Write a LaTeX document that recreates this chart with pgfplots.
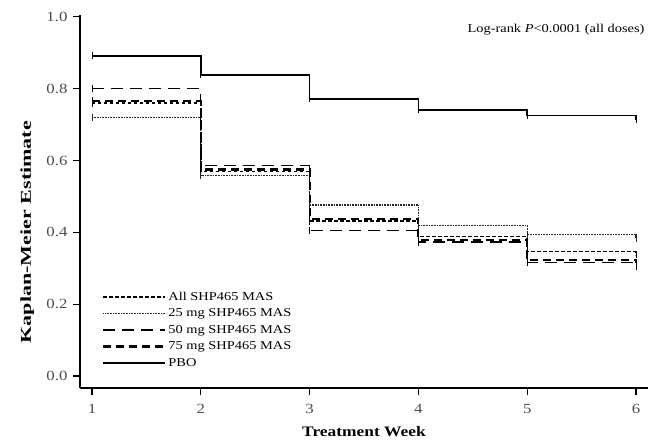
\documentclass[border=0pt]{standalone}
\usepackage{fontspec}
\setmainfont{Liberation Serif}
\newfontfamily\wideA[FakeStretch=1.2]{Liberation Serif}
\newfontfamily\wideY[FakeStretch=1.47]{Liberation Serif}
\usepackage{pgfplots}
\pgfplotsset{compat=1.18}
\begin{document}
\begin{tikzpicture}
\begin{axis}[
  at={(0,0)}, anchor=south west,
  width=568bp, height=373bp, scale only axis,
  xmin=0.89, xmax=6.11, ymin=-0.0334, ymax=1.005,
  axis lines=left, axis line style={-, line width=1.6bp, black},
  tick align=outside, major tick length=7bp,
  tick style={line width=1.3bp, black},
  xtick={1,2,3,4,5,6},
  ytick={0,0.2,0.4,0.6,0.8,1.0},
  yticklabel style={xshift=-2bp, /pgf/number format/.cd, fixed, fixed zerofill, precision=1},
  /pgf/number format/assume math mode=true,
  ticklabel style={font=\wideA\fontsize{14bp}{16bp}\selectfont, text=black!70},
  xticklabel style={yshift=-6bp},
  xlabel={\textbf{Treatment Week}},
  ylabel={\textbf{Kaplan-Meier Estimate}},
  xlabel style={at={(axis description cs:0.5,-0.118)}, anchor=center, font=\wideA\fontsize{14.5bp}{16bp}\selectfont},
  ylabel style={at={(axis description cs:-0.093,0.418)}, anchor=center, font=\wideY\fontsize{15bp}{16bp}\selectfont},
  legend style={at={(axis description cs:0.039,0.263)}, anchor=north west, draw=none, fill=none,
    font=\wideA\fontsize{12bp}{14bp}\selectfont, inner sep=0pt, row sep=3bp},
  legend cell align=left,
  legend image code/.code={\draw[#1] (0bp,0bp) -- (62bp,0bp);},
  every axis plot/.append style={const plot mark left, black, mark=|, mark size=3.5bp, mark options={solid, line width=0.8bp}},
]
% All SHP465 MAS
\addplot[line width=1.5bp, dash pattern=on 3.5bp off 2.5bp] coordinates {(1,0.760) (2,0.570) (3,0.432) (4,0.388) (5,0.346) (6,0.337)};
\addlegendentry{All SHP465 MAS}
% 25 mg
\addplot[line width=1.1bp, dash pattern=on 1bp off 0.6bp, black!85] coordinates {(1,0.720) (2,0.558) (3,0.476) (4,0.420) (5,0.393) (6,0.382)};
\addlegendentry{25 mg SHP465 MAS}
% 50 mg
\addplot[line width=1.2bp, dash pattern=on 12bp off 7bp] coordinates {(1,0.800) (2,0.585) (3,0.405) (4,0.373) (5,0.316) (6,0.306)};
\addlegendentry{50 mg SHP465 MAS}
% 75 mg
\addplot[line width=2.1bp, dash pattern=on 8bp off 5bp] coordinates {(1,0.766) (2,0.575) (3,0.437) (4,0.378) (5,0.322) (6,0.315)};
\addlegendentry{75 mg SHP465 MAS}
% PBO
\addplot[line width=1.8bp, solid] coordinates {(1,0.891) (2,0.838) (3,0.772) (4,0.741) (5,0.725) (6,0.713)};
\addlegendentry{PBO}
\node[anchor=east, font=\wideA\fontsize{12bp}{14bp}\selectfont] at (axis description cs:1,0.96) {Log-rank \textit{P}<0.0001 (all doses)};
\end{axis}
\pgfresetboundingbox
\path[use as bounding box] (-80bp,-54bp) rectangle (578bp,388bp);
\end{tikzpicture}
\end{document}
